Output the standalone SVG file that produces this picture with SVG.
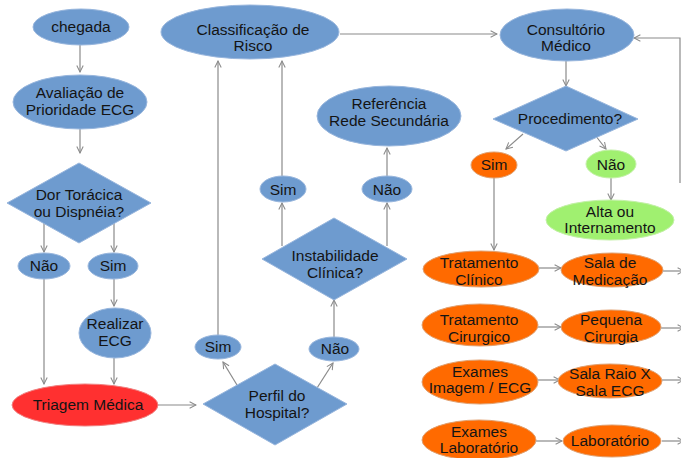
<svg xmlns="http://www.w3.org/2000/svg" width="681" height="458" viewBox="0 0 681 458">
<defs>
<marker id="ah" viewBox="0 0 10 10" refX="9" refY="5" markerWidth="8" markerHeight="8" markerUnits="userSpaceOnUse" orient="auto">
<path d="M1,1 L9,5 L1,9" fill="none" stroke="#8a8a8a" stroke-width="1.3"/>
</marker>
</defs>
<style>
.b{fill:#6e9bcf;stroke:#98b6dd;stroke-width:1}
.o{fill:#ff6a00;stroke:#e0a070;stroke-width:1}
.g{fill:#a0f070;stroke:#c4f0a8;stroke-width:1}
.r{fill:#ff3030;stroke:#f08080;stroke-width:1}
text{font-family:"Liberation Sans",Arial,sans-serif;font-size:15.5px;fill:#141414;text-anchor:middle}
.c{fill:none;stroke:#8a8a8a;stroke-width:1.2}
.ca{fill:none;stroke:#8a8a8a;stroke-width:1.2;marker-end:url(#ah)}
</style>
<g id="connectors">
<line class="ca" x1="80" y1="45" x2="80" y2="72"/>
<line class="ca" x1="80" y1="129" x2="80" y2="153"/>
<line class="ca" x1="44" y1="222" x2="44" y2="252"/>
<line class="ca" x1="114" y1="222" x2="114" y2="252"/>
<line class="ca" x1="44" y1="279" x2="44" y2="384"/>
<line class="ca" x1="114" y1="279" x2="114" y2="306"/>
<line class="ca" x1="114" y1="358" x2="114" y2="384"/>
<line class="ca" x1="158" y1="405" x2="196" y2="405"/>
<line class="ca" x1="237" y1="385" x2="223" y2="362"/>
<line class="ca" x1="317" y1="388" x2="333" y2="363"/>
<line class="ca" x1="218" y1="336" x2="218" y2="61"/>
<line class="ca" x1="334" y1="337" x2="334" y2="300"/>
<line class="ca" x1="282" y1="246" x2="282" y2="203"/>
<line class="ca" x1="387" y1="246" x2="387" y2="203"/>
<line class="ca" x1="282" y1="176" x2="282" y2="61"/>
<line class="ca" x1="387" y1="176" x2="387" y2="148"/>
<line class="ca" x1="340" y1="34" x2="497" y2="34"/>
<line class="ca" x1="566" y1="61" x2="566" y2="86"/>
<line class="ca" x1="523" y1="134" x2="506" y2="149"/>
<line class="ca" x1="595" y1="135" x2="606" y2="149"/>
<line class="ca" x1="611" y1="178" x2="611" y2="200"/>
<line class="ca" x1="494" y1="178" x2="494" y2="250"/>
<line class="ca" x1="539" y1="268" x2="561" y2="268"/>
<line class="ca" x1="537" y1="327" x2="561" y2="327"/>
<line class="ca" x1="537" y1="380" x2="560" y2="380"/>
<line class="ca" x1="536" y1="441" x2="562" y2="441"/>
<line class="ca" x1="663" y1="271" x2="684" y2="271"/>
<line class="ca" x1="661" y1="328" x2="684" y2="328"/>
<line class="ca" x1="662" y1="380" x2="684" y2="380"/>
<line class="ca" x1="662" y1="441" x2="684" y2="441"/>
<polyline class="ca" points="680,183 680,38 634,38"/>
</g>
<g id="chegada"><ellipse class="b" cx="81" cy="27" rx="48" ry="18"/><text x="81" y="32">chegada</text></g>
<g id="avaliacao"><ellipse class="b" cx="80" cy="102" rx="67" ry="27"/><text x="80" y="98">Avaliação de</text><text x="80" y="115">Prioridade ECG</text></g>
<g id="dor"><polygon class="b" points="79,163 151,203 79,243 7,203"/><text x="79" y="200">Dor Torácica</text><text x="79" y="217">ou Dispnéia?</text></g>
<g id="nao1"><ellipse class="b" cx="44" cy="266" rx="26" ry="13"/><text x="44" y="271">Não</text></g>
<g id="sim1"><ellipse class="b" cx="113" cy="266" rx="25" ry="13"/><text x="113" y="271">Sim</text></g>
<g id="realizar"><ellipse class="b" cx="115" cy="333" rx="36" ry="25"/><text x="115" y="329">Realizar</text><text x="115" y="346">ECG</text></g>
<g id="triagem"><ellipse class="r" cx="85" cy="405" rx="73" ry="21"/><text x="88" y="410">Triagem Médica</text></g>
<g id="perfil"><polygon class="b" points="275,364 347,404 275,445 203,404"/><text x="277" y="401">Perfil do</text><text x="277" y="418">Hospital?</text></g>
<g id="sim2"><ellipse class="b" cx="218" cy="347" rx="23" ry="12"/><text x="218" y="352">Sim</text></g>
<g id="nao2"><ellipse class="b" cx="334" cy="349" rx="25" ry="12"/><text x="335" y="354">Não</text></g>
<g id="instab"><polygon class="b" points="334,218 407,259 334,300 262,259"/><text x="335" y="261">Instabilidade</text><text x="335" y="278">Clínica?</text></g>
<g id="sim3"><ellipse class="b" cx="283" cy="189" rx="23" ry="13"/><text x="283" y="195">Sim</text></g>
<g id="nao3"><ellipse class="b" cx="387" cy="189" rx="25" ry="13"/><text x="387" y="195">Não</text></g>
<g id="referencia"><ellipse class="b" cx="389" cy="116" rx="72" ry="30"/><text x="389" y="109">Referência</text><text x="389" y="126">Rede Secundária</text></g>
<g id="classificacao"><ellipse class="b" cx="250" cy="32" rx="89" ry="27"/><text x="253" y="35">Classificação de</text><text x="253" y="51">Risco</text></g>
<g id="consultorio"><ellipse class="b" cx="567" cy="35" rx="67" ry="26"/><text x="566" y="35">Consultório</text><text x="566" y="51">Médico</text></g>
<g id="procedimento"><polygon class="b" points="566,86 638,119 566,151 493,119"/><text x="570" y="124">Procedimento?</text></g>
<g id="sim4"><ellipse class="o" cx="494" cy="165" rx="23" ry="13"/><text x="494" y="170">Sim</text></g>
<g id="nao4"><ellipse class="g" cx="611" cy="164" rx="25" ry="14"/><text x="611" y="170">Não</text></g>
<g id="alta"><ellipse class="g" cx="610" cy="220" rx="64" ry="20"/><text x="610" y="217">Alta ou</text><text x="610" y="233">Internamento</text></g>
<g id="tratclin"><ellipse class="o" cx="481" cy="269" rx="58" ry="18"/><text x="479" y="268">Tratamento</text><text x="479" y="285">Clínico</text></g>
<g id="salamed"><ellipse class="o" cx="612" cy="270" rx="51" ry="17"/><text x="610" y="268">Sala de</text><text x="610" y="285">Medicação</text></g>
<g id="tratcir"><ellipse class="o" cx="480" cy="325" rx="58" ry="21"/><text x="479" y="325">Tratamento</text><text x="479" y="342">Cirurgico</text></g>
<g id="pequena"><ellipse class="o" cx="611" cy="327" rx="50" ry="17"/><text x="611" y="325">Pequena</text><text x="611" y="342">Cirurgia</text></g>
<g id="examesimg"><ellipse class="o" cx="480" cy="382" rx="58" ry="22"/><text x="480" y="377">Exames</text><text x="480" y="393">Imagem  / ECG</text></g>
<g id="salaraio"><ellipse class="o" cx="610" cy="381" rx="52" ry="17"/><text x="610" y="379">Sala Raio X</text><text x="610" y="396">Sala ECG</text></g>
<g id="exameslab"><ellipse class="o" cx="479" cy="440" rx="57" ry="20"/><text x="479" y="437">Exames</text><text x="479" y="453">Laboratório</text></g>
<g id="laboratorio"><ellipse class="o" cx="612" cy="441" rx="49" ry="16"/><text x="610" y="446">Laboratório</text></g>
</svg>
